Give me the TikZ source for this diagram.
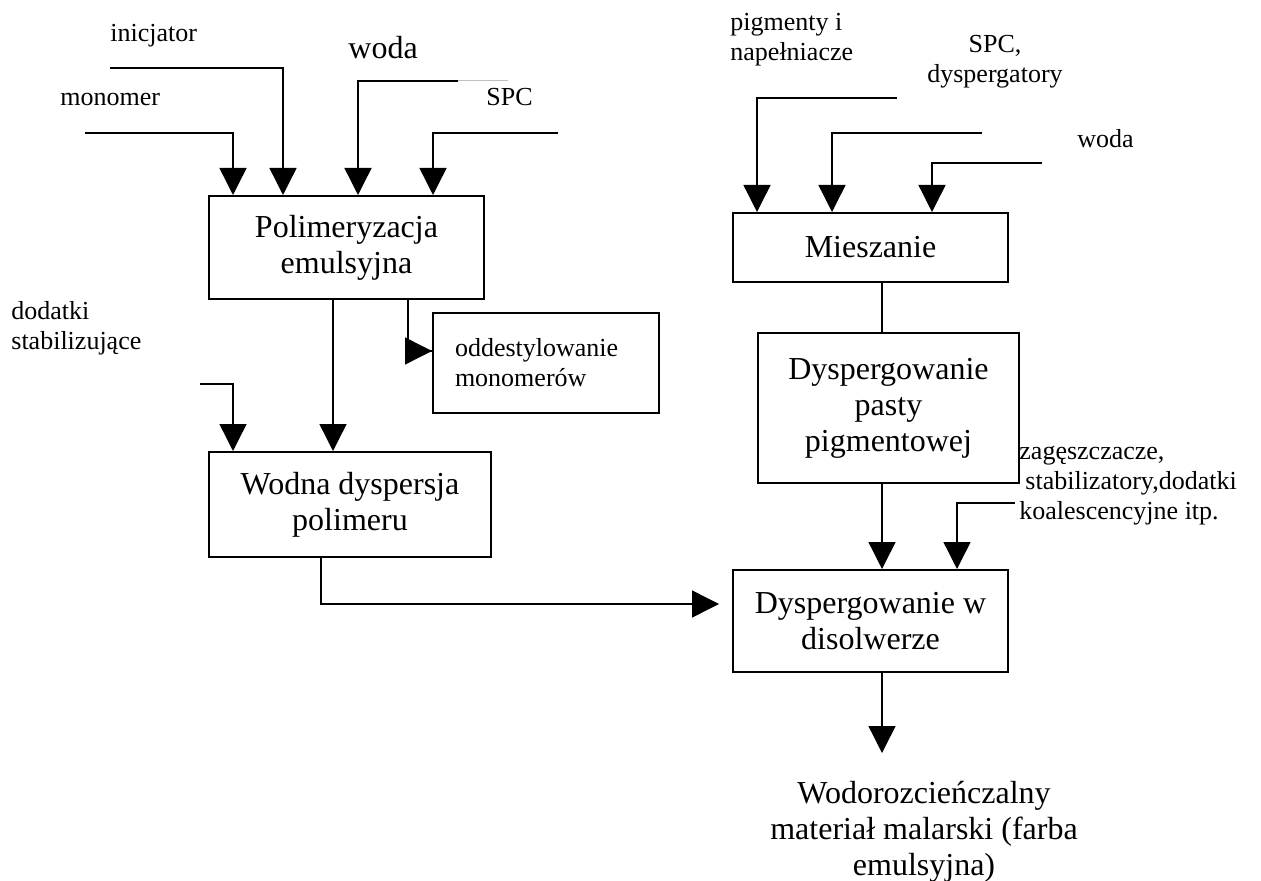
\documentclass[tikz,border=0pt]{standalone}
\usepackage{fontspec}
\setmainfont{Liberation Serif}
\usepackage{tikz}
\usetikzlibrary{arrows.meta,calc}
\newcommand{\boxfont}{\fontsize{16}{18}\selectfont}
\newcommand{\lblfont}{\fontsize{13}{15}\selectfont}

\begin{document}
\begin{tikzpicture}[x=0.5pt,y=-0.5pt,
    box/.style={draw,line width=1pt,align=center,font=\boxfont,inner sep=2pt},
    lbl/.style={font=\lblfont,inner sep=0pt},
    flow/.style={line width=0.7pt,-{Triangle[length=13.5pt,width=13.5pt]}},
    feed/.style={line width=0.7pt}]
\useasboundingbox (0,0) rectangle (1261,881);
% process boxes
\node[box,minimum width=137.5pt,minimum height=51.5pt] (polim) at (346.5,247.5) {Polimeryzacja\\emulsyjna};
\node[box,minimum height=50pt,text width=91pt,inner xsep=11pt,align=left,font=\lblfont] (odd) at (546,363) {oddestylowanie\\monomerów\\[6pt]};
\node[box,minimum width=141pt,minimum height=52.5pt] (wodna) at (350,504.5) {Wodna dyspersja\\polimeru};
\node[box,minimum width=137.5pt,minimum height=34.5pt] (miesz) at (870.5,247.5) {Mieszanie};
\node[box,minimum width=130.5pt,minimum height=75pt] (pasty) at (888.5,408) {Dyspergowanie\\pasty\\pigmentowej};
\node[box,minimum width=137.5pt,minimum height=51pt] (disol) at (870.5,621) {Dyspergowanie w\\disolwerze};
% labels
\node[lbl,anchor=base west] (inic) at (110,42) {inicjator};
\node[lbl,anchor=base west,font=\boxfont] (woda1) at (348,59) {woda};
\node[lbl,anchor=base west] (mono) at (60,106) {monomer};
\node[lbl,anchor=base west] (spc1) at (486,106) {SPC};
\node[lbl,anchor=north west,align=left] (pigm) at (730,13) {pigmenty i\\napełniacze};
\node[lbl,anchor=north,align=center] (spc2) at (995,35) {SPC,\\dyspergatory};
\node[lbl,anchor=base west] (woda2) at (1077,148) {woda};
\node[lbl,anchor=north west,align=left] (dod) at (11,301) {dodatki\\stabilizujące};
\node[lbl,anchor=north west,align=left] (zag) at (1019,446) {zagęszczacze,\\\hspace*{3pt}stabilizatory,dodatki\\koalescencyjne itp.};
\node[lbl,font=\boxfont,anchor=north,align=center] (out) at (924,781) {Wodorozcieńczalny\\materiał malarski (farba\\emulsyjna)};
% free ends of the feeds
\coordinate (monoSrc) at (85,133);
\coordinate (inicSrc) at (110,68);
\coordinate (wodaSrc) at (458,81);
\coordinate (spcSrc) at (558,133);
\coordinate (dodSrc) at (200,384);
\coordinate (pigmSrc) at (897,98);
\coordinate (dyspSrc) at (982,133);
\coordinate (woda2Src) at (1042,163);
\coordinate (zagSrc) at (1015,503);
% points on the boxes
\coordinate (polimIn1) at ($(polim.north west)+(25,0)$);
\coordinate (polimIn2) at ($(polim.north west)+(75,0)$);
\coordinate (polimIn3) at ($(polim.north west)+(150,0)$);
\coordinate (polimIn4) at ($(polim.north west)+(225,0)$);
\coordinate (polimOut1) at ($(polim.south west)+(125,0)$);
\coordinate (polimOut2) at ($(polim.south west)+(200,0)$);
\coordinate (oddIn) at ($(odd.west)+(0,-12)$);
\coordinate (wodnaIn1) at ($(wodna.north west)+(25,0)$);
\coordinate (wodnaIn2) at ($(wodna.north west)+(125,0)$);
\coordinate (wodnaOut) at ($(wodna.south west)+(113,0)$);
\coordinate (mieszIn1) at ($(miesz.north west)+(25,0)$);
\coordinate (mieszIn2) at ($(miesz.north west)+(100,0)$);
\coordinate (mieszIn3) at ($(miesz.north west)+(200,0)$);
\coordinate (mieszOut) at ($(miesz.south west)+(150,0)$);
\coordinate (pastyIn) at ($(pasty.north west)+(125,0)$);
\coordinate (pastyOut) at ($(pasty.south west)+(125,0)$);
\coordinate (disolIn1) at ($(disol.north west)+(150,0)$);
\coordinate (disolIn2) at ($(disol.north west)+(225,0)$);
\coordinate (disolOut) at ($(disol.south west)+(150,0)$);
% connectors
\draw[flow] (monoSrc) -| (polimIn1);
\draw[flow] (inicSrc) -| (polimIn2);
\draw[gray!50,line width=0.5pt] (wodaSrc) -- ++(50,0);
\draw[flow] (wodaSrc) -| (polimIn3);
\draw[flow] (spcSrc) -| (polimIn4);
\draw[flow] (polimOut1) -- (wodnaIn2);
\draw[feed] (polimOut2) |- (oddIn);
\draw[flow] ($(polimOut2 |- oddIn)+(-3,0)$) -- (oddIn);
\draw[flow] (dodSrc) -| (wodnaIn1);
\draw[flow,shorten >=6.5pt] (wodnaOut) |- ($(disol.west)+(0,-17)$);
\draw[flow] (pigmSrc) -| (mieszIn1);
\draw[flow] (dyspSrc) -| (mieszIn2);
\draw[flow] (woda2Src) -| (mieszIn3);
\draw[feed] (mieszOut) -- (pastyIn);
\draw[flow] (pastyOut) -- (disolIn1);
\draw[flow] (zagSrc) -| (disolIn2);
\draw[flow,shorten >=14pt] (disolOut) -- (disolOut |- out.north);
\end{tikzpicture}
\end{document}
